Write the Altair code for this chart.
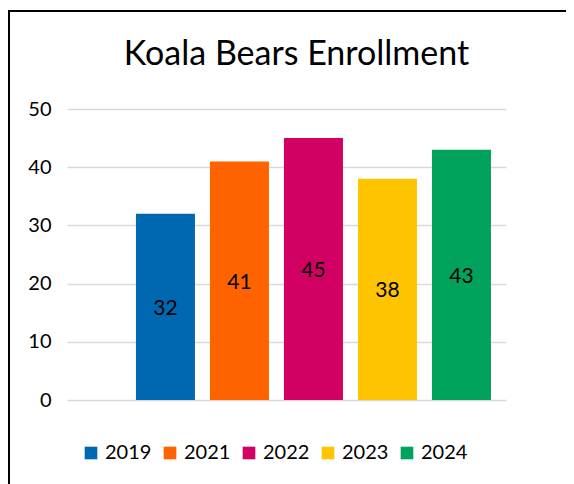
import altair as alt
import pandas as pd

years = ["2019", "2021", "2022", "2023", "2024"]
values = [32, 41, 45, 38, 43]
colors = ["#0067b1", "#ff6300", "#d10062", "#ffc400", "#00a25c"]
y_ticks = [0, 10, 20, 30, 40, 50]

df = pd.DataFrame({"year": years, "value": values})

FONT = "Lato"

xscale = alt.Scale(paddingInner=0.2027, paddingOuter=0.5675, align=0.821)

base = alt.Chart(df)

bars = base.mark_bar().encode(
    x=alt.X("year:N", scale=xscale, axis=None, sort=years),
    y=alt.Y(
        "value:Q",
        scale=alt.Scale(domain=[0, 50]),
        axis=alt.Axis(
            values=y_ticks,
            title=None,
            domain=False,
            ticks=False,
            labelFontSize=20,
            labelFont=FONT,
            labelColor="black",
            labelPadding=16,
            gridColor="#d9d9d9",
            gridWidth=1.5,
        ),
    ),
    color=alt.Color(
        "year:N",
        scale=alt.Scale(domain=years, range=colors),
        legend=alt.Legend(
            orient="none",
            direction="horizontal",
            legendX=14,
            legendY=334,
            title=None,
            symbolType="square",
            symbolSize=160,
            symbolStrokeWidth=0,
            labelFontSize=20,
            labelFont=FONT,
            labelColor="black",
            labelOffset=4,
            columnPadding=8,
        ),
    ),
)

labels = base.transform_calculate(mid="datum.value / 2").mark_text(
    fontSize=21, font=FONT, color="black", dy=2
).encode(
    x=alt.X("year:N", scale=xscale, axis=None, sort=years),
    y=alt.Y("mid:Q"),
    text=alt.Text("value:Q"),
)

frame_df = pd.DataFrame({"k": [0]})
left_border = alt.Chart(frame_df).mark_rule(color="black", strokeWidth=2).encode(
    x=alt.value(-58), y=alt.value(-98), y2=alt.value(375)
)
top_border = alt.Chart(frame_df).mark_rule(color="black", strokeWidth=2).encode(
    x=alt.value(-59), x2=alt.value(499), y=alt.value(-98)
)

chart = alt.layer(bars, labels, left_border, top_border).properties(
    width=439,
    height=291,
    padding={"left": 59, "top": 101, "right": 60, "bottom": 84},
    autosize=alt.AutoSizeParams(type="none"),
    title=alt.Title(
        "Koala Bears Enrollment",
        fontSize=34,
        font=FONT,
        fontWeight="normal",
        color="black",
        anchor="middle",
        dx=10,
        offset=-62,
    ),
).configure_view(stroke=None)

chart.save("out.html", embed_options={"renderer": "svg", "actions": False})
